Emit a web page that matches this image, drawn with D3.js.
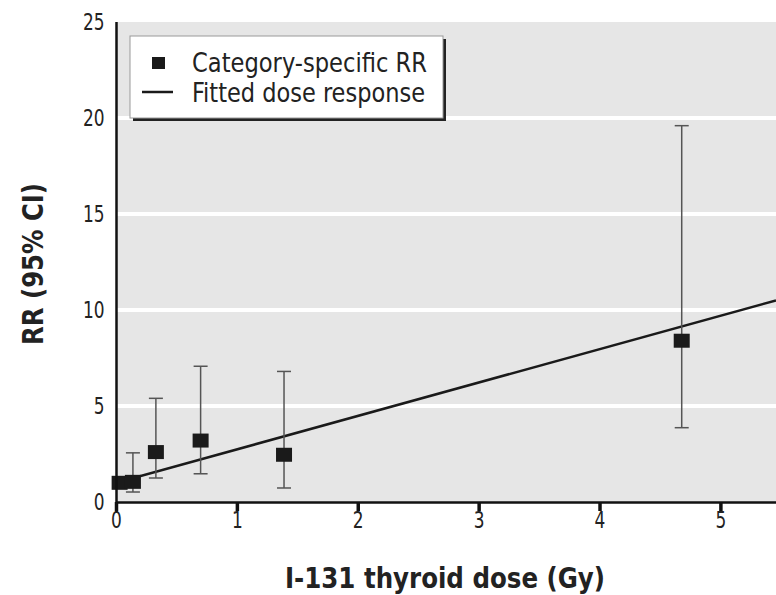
<!DOCTYPE html>
<html><head><meta charset="utf-8">
<script src="https://cdn.jsdelivr.net/npm/d3@7"></script>
<style>
html,body{margin:0;padding:0;background:#fff;}
svg{display:block;}
text{font-family:"Liberation Sans Narrow","Arial Narrow","DejaVu Sans Condensed",sans-serif;font-stretch:condensed;fill:#222;}
</style></head>
<body>
<svg id="c" width="776" height="595"></svg>
<script>
// Data
const doses  = [0.03, 0.14, 0.33, 0.70, 1.39, 4.68];
const rr     = [1.00, 1.05, 2.60, 3.20, 2.46, 8.40];
const lower  = [null, 0.52, 1.25, 1.47, 0.73, 3.87];
const upper  = [null, 2.56, 5.40, 7.07, 6.80, 19.60];
const fitDose = [0, 5.46];
const fitRR   = [1.00, 10.50];
const xTicks = [0, 1, 2, 3, 4, 5];
const yTicks = [0, 5, 10, 15, 20, 25];
const legendLabels = ["Category-specific RR", "Fitted dose response"];
const xTitle = "I-131 thyroid dose (Gy)";
const yTitle = "RR (95% CI)";

const svg = d3.select("#c");
const L = 116, R = 776, T = 22, B = 502;
const x = d3.scaleLinear().domain([0, 5.46]).range([L, R]);
const y = d3.scaleLinear().domain([0, 25]).range([B, T]);

// plot background
svg.append("rect").attr("x", L).attr("y", T).attr("width", R - L).attr("height", B - T).attr("fill", "#e6e6e6");
// gridlines
svg.append("g").selectAll("line").data(yTicks.filter(d => d > 0 && d < 25)).join("line")
  .attr("x1", L).attr("x2", R).attr("y1", d => y(d)).attr("y2", d => y(d))
  .attr("stroke", "#fff").attr("stroke-width", 4);

svg.append("clipPath").attr("id", "pc").append("rect")
  .attr("x", L).attr("y", T).attr("width", R - L).attr("height", B - T);

// fitted line
const pts = fitDose.map((d, i) => [d, fitRR[i]]);
svg.append("path").attr("clip-path", "url(#pc)")
  .attr("d", d3.line().x(d => x(d[0])).y(d => y(d[1]))(pts))
  .attr("fill", "none").attr("stroke", "#1a1a1a").attr("stroke-width", 2.5);

// error bars
const data = doses.map((d, i) => ({d, rr: rr[i], lo: lower[i], hi: upper[i]}));
const eb = svg.append("g").selectAll("g").data(data.filter(d => d.lo != null)).join("g");
eb.append("line").attr("x1", d => x(d.d)).attr("x2", d => x(d.d))
  .attr("y1", d => y(d.lo)).attr("y2", d => y(d.hi)).attr("stroke", "#555").attr("stroke-width", 1.5);
eb.append("line").attr("x1", d => x(d.d) - 7).attr("x2", d => x(d.d) + 7)
  .attr("y1", d => y(d.lo)).attr("y2", d => y(d.lo)).attr("stroke", "#555").attr("stroke-width", 1.5);
eb.append("line").attr("x1", d => x(d.d) - 7).attr("x2", d => x(d.d) + 7)
  .attr("y1", d => y(d.hi)).attr("y2", d => y(d.hi)).attr("stroke", "#555").attr("stroke-width", 1.5);

// squares
svg.append("g").selectAll("rect").data(data).join("rect")
  .attr("x", d => x(d.d) - 8).attr("y", d => y(d.rr) - 7).attr("width", 16).attr("height", 14)
  .attr("fill", "#1a1a1a");

// axes
const xa = svg.append("g").attr("transform", `translate(0,${B})`)
  .call(d3.axisBottom(x).tickValues(xTicks).tickSize(9).tickFormat(d3.format("d")));
xa.select(".domain").attr("stroke", "#111").attr("stroke-width", 2.5).attr("d", `M${L},0.5H${R}`);
xa.selectAll(".tick line").attr("stroke", "#111").attr("stroke-width", 3.5);
xa.selectAll(".tick text").attr("font-size", 23).attr("dy", "0.75em").attr("y", 9)
  .attr("transform", "scale(0.82,1)").attr("fill", "#333");

const ya = svg.append("g").attr("transform", `translate(${L},0)`)
  .call(d3.axisLeft(y).tickValues(yTicks).tickSize(0).tickPadding(14).tickFormat(d3.format("d")));
ya.select(".domain").attr("stroke", "#111").attr("stroke-width", 2.5).attr("d", `M0.5,${T}V${B + 10}`);
ya.selectAll(".tick text").attr("font-size", 23).attr("transform", "scale(0.82,1)").attr("fill", "#333");
svg.selectAll(".tick text").attr("font-family", null);

// titles
svg.append("text").attr("x", 445).attr("y", 588).attr("text-anchor", "middle")
  .attr("font-size", 29).attr("font-weight", "bold")
  .attr("textLength", 320).attr("lengthAdjust", "spacingAndGlyphs").text(xTitle);
svg.append("text").attr("transform", "translate(43,264) rotate(-90)").attr("text-anchor", "middle")
  .attr("font-size", 29).attr("font-weight", "bold")
  .attr("textLength", 162).attr("lengthAdjust", "spacingAndGlyphs").text(yTitle);

// legend
const lg = svg.append("g");
lg.append("rect").attr("x", 133).attr("y", 39).attr("width", 313).attr("height", 82).attr("fill", "#222");
lg.append("rect").attr("x", 130).attr("y", 36).attr("width", 313).attr("height", 82).attr("fill", "#fff").attr("stroke", "#999").attr("stroke-width", 1);
lg.append("rect").attr("x", 152).attr("y", 57).attr("width", 13).attr("height", 12).attr("fill", "#1a1a1a");
lg.append("line").attr("x1", 142).attr("x2", 173).attr("y1", 92).attr("y2", 92).attr("stroke", "#1a1a1a").attr("stroke-width", 2.5);
lg.selectAll("text").data(legendLabels).join("text")
  .attr("x", 192).attr("y", (d, i) => 62 + i * 30).attr("dy", "0.36em")
  .attr("font-size", 27).attr("fill", "#333")
  .attr("textLength", (d, i) => i === 0 ? 235 : 233).attr("lengthAdjust", "spacingAndGlyphs").text(d => d);
</script>
</body></html>
